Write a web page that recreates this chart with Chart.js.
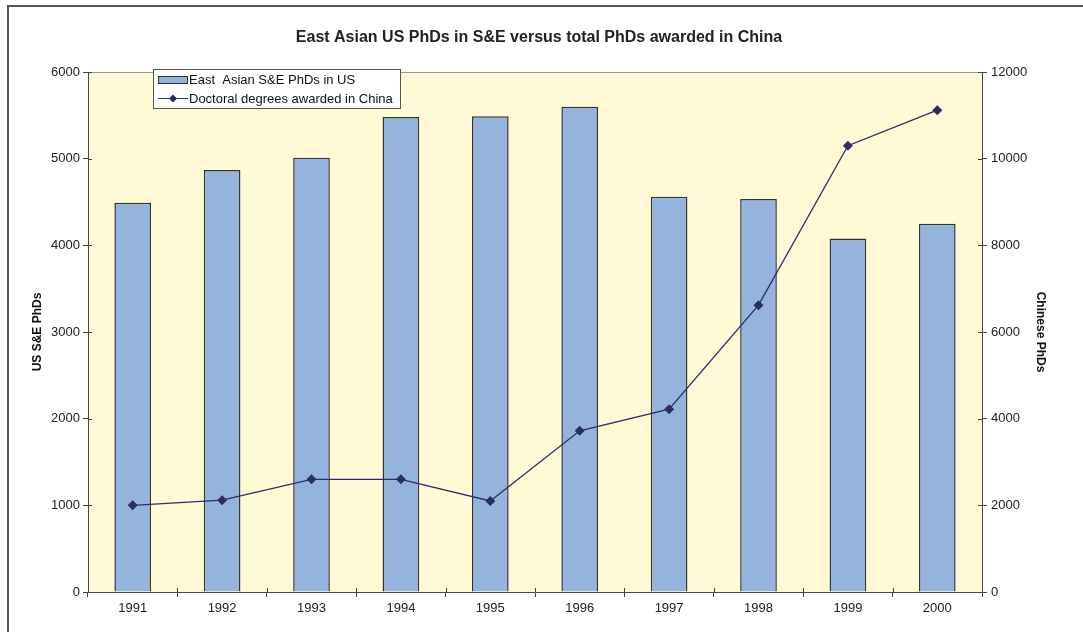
<!DOCTYPE html>
<html lang="en">
<head>
  <meta charset="UTF-8" />
  <title>East Asian US PhDs vs China PhDs</title>
  <script src="https://cdn.jsdelivr.net/npm/chart.js"></script>
  <style>
    html, body { margin: 0; padding: 0; background: #fff; }
    #wrap { position: relative; width: 1083px; height: 632px; overflow: hidden; }
    /* outer frame of the chart (top and left edges only visible) */
    #frame { position: absolute; left: 7px; top: 5px; width: 1090px; height: 640px;
             border: 2px solid #555; box-sizing: border-box; pointer-events: none; }
    canvas { position: absolute; left: 0; top: 0; }
  </style>
</head>
<body>
<div id="wrap">
  <canvas id="chart" width="1083" height="632"></canvas>
  <div id="frame"></div>
</div>
<script>
  // data
  const years = ['1991', '1992', '1993', '1994', '1995', '1996', '1997', '1998', '1999', '2000'];
  const usPhds = [4490, 4870, 5010, 5480, 5490, 5600, 4560, 4535, 4080, 4250];
  const chinaPhds = [2000, 2120, 2600, 2600, 2100, 3720, 4220, 6620, 10300, 11120];
  const leftTicks = [0, 1000, 2000, 3000, 4000, 5000, 6000];
  const rightTicks = [0, 2000, 4000, 6000, 8000, 10000, 12000];

  const FONT = 'Arial, "Liberation Sans", Helvetica, sans-serif';
  const AXIS = '#444';

  // yellow plot background + top border + ticks that cross the axis lines
  const plotDecor = {
    id: 'plotDecor',
    beforeDraw(chart) {
      const { ctx, chartArea: a } = chart;
      ctx.save();
      ctx.fillStyle = '#fff9d6';
      ctx.fillRect(a.left, a.top, a.right - a.left, a.bottom - a.top);
      ctx.restore();
    },
    afterDraw(chart) {
      const { ctx, chartArea: a, scales } = chart;
      ctx.save();
      ctx.strokeStyle = '#999';
      ctx.lineWidth = 1;
      ctx.beginPath();
      ctx.moveTo(a.left, a.top + 0.5);
      ctx.lineTo(a.right, a.top + 0.5);
      ctx.stroke();
      ctx.strokeStyle = AXIS;
      ctx.beginPath();
      scales.y.ticks.forEach((t, i) => {
        const py = Math.round(scales.y.getPixelForTick(i)) + 0.5;
        ctx.moveTo(a.left, py); ctx.lineTo(a.left + 4, py);
      });
      scales.y1.ticks.forEach((t, i) => {
        const py = Math.round(scales.y1.getPixelForTick(i)) + 0.5;
        ctx.moveTo(a.right - 4, py); ctx.lineTo(a.right, py);
      });
      for (let i = 0; i <= years.length; i++) {
        const px = Math.round(scales.x.getPixelForValue(i - 0.5)) + 0.5;
        ctx.moveTo(px, a.bottom); ctx.lineTo(px, a.bottom - 4);
      }
      ctx.stroke();
      ctx.restore();
    }
  };

  // legend box drawn inside the plot area
  const boxLegend = {
    id: 'boxLegend',
    afterDraw(chart) {
      const { ctx } = chart;
      const bar = chart.data.datasets.find(d => d.type !== 'line');
      const line = chart.data.datasets.find(d => d.type === 'line');
      const x = 153, y = 69, w = 247, h = 39;
      ctx.save();
      ctx.fillStyle = '#fff';
      ctx.fillRect(x, y, w, h);
      ctx.strokeStyle = '#555';
      ctx.lineWidth = 1;
      ctx.strokeRect(x + 0.5, y + 0.5, w, h);
      ctx.font = '13px ' + FONT;
      ctx.textBaseline = 'middle';
      // bar entry
      ctx.fillStyle = bar.backgroundColor;
      ctx.fillRect(x + 5, y + 7, 29, 7);
      ctx.strokeStyle = '#333';
      ctx.strokeRect(x + 5.5, y + 7.5, 29, 7);
      ctx.fillStyle = '#111';
      ctx.fillText(bar.label, x + 36, y + 11);
      // line entry
      ctx.strokeStyle = line.borderColor;
      ctx.beginPath();
      ctx.moveTo(x + 5, y + 29.5); ctx.lineTo(x + 35, y + 29.5);
      ctx.stroke();
      ctx.fillStyle = line.borderColor;
      ctx.beginPath();
      ctx.moveTo(x + 20, y + 25.5); ctx.lineTo(x + 24, y + 29.5);
      ctx.lineTo(x + 20, y + 33.5); ctx.lineTo(x + 16, y + 29.5);
      ctx.closePath(); ctx.fill();
      ctx.fillStyle = '#111';
      ctx.fillText(line.label, x + 36, y + 30);
      ctx.restore();
    }
  };

  const plain = v => String(v);

  new Chart(document.getElementById('chart'), {
    type: 'bar',
    data: {
      labels: years,
      datasets: [
        {
          type: 'line',
          label: 'Doctoral degrees awarded in China',
          data: chinaPhds,
          yAxisID: 'y1',
          borderColor: '#2b2d6b',
          backgroundColor: '#2b2d6b',
          borderWidth: 1.3,
          pointStyle: 'rectRot',
          pointRadius: 5,
          pointBorderWidth: 0,
          tension: 0,
          order: 0
        },
        {
          type: 'bar',
          label: 'East  Asian S&E PhDs in US',
          data: usPhds,
          yAxisID: 'y',
          backgroundColor: '#95b4dd',
          borderColor: '#333',
          borderWidth: 1.5,
          barPercentage: 0.41,
          categoryPercentage: 1,
          order: 1
        }
      ]
    },
    options: {
      responsive: false,
      animation: false,
      layout: { padding: { left: 30, right: 35, top: 0, bottom: 0 } },
      plugins: {
        legend: { display: false },
        tooltip: { enabled: false },
        title: {
          display: true,
          text: 'East Asian US PhDs in S&E versus total PhDs awarded in China',
          color: '#222',
          font: { family: FONT, size: 16, weight: 'bold' },
          padding: { top: 28, bottom: 24.8 }
        }
      },
      scales: {
        x: {
          grid: { display: true, drawOnChartArea: false, offset: true, color: AXIS, tickLength: 5 },
          border: { color: AXIS, width: 1 },
          ticks: { color: '#222', font: { family: FONT, size: 13 }, padding: 4, maxRotation: 0 },
          afterFit(s) { s.height = 40; }
        },
        y: {
          position: 'left',
          min: 0, max: 6000,
          afterBuildTicks(s) { s.ticks = leftTicks.map(v => ({ value: v })); },
          grid: { drawOnChartArea: false, color: AXIS, tickLength: 5 },
          border: { color: AXIS, width: 1 },
          ticks: { color: '#222', font: { family: FONT, size: 13 }, padding: 3, callback: plain },
          title: { display: true, text: 'US S&E PhDs', color: '#111',
                   font: { family: FONT, size: 12, weight: 'bold' }, padding: 0 },
          afterFit(s) { s.width = 58; }
        },
        y1: {
          position: 'right',
          min: 0, max: 12000,
          afterBuildTicks(s) { s.ticks = rightTicks.map(v => ({ value: v })); },
          grid: { drawOnChartArea: false, color: AXIS, tickLength: 5 },
          border: { color: AXIS, width: 1 },
          ticks: { color: '#222', font: { family: FONT, size: 13 }, padding: 4, callback: plain },
          title: { display: true, text: 'Chinese PhDs', color: '#111',
                   font: { family: FONT, size: 12, weight: 'bold' }, padding: 0 },
          afterFit(s) { s.width = 66; }
        }
      }
    },
    plugins: [plotDecor, boxLegend]
  });
</script>
</body>
</html>
